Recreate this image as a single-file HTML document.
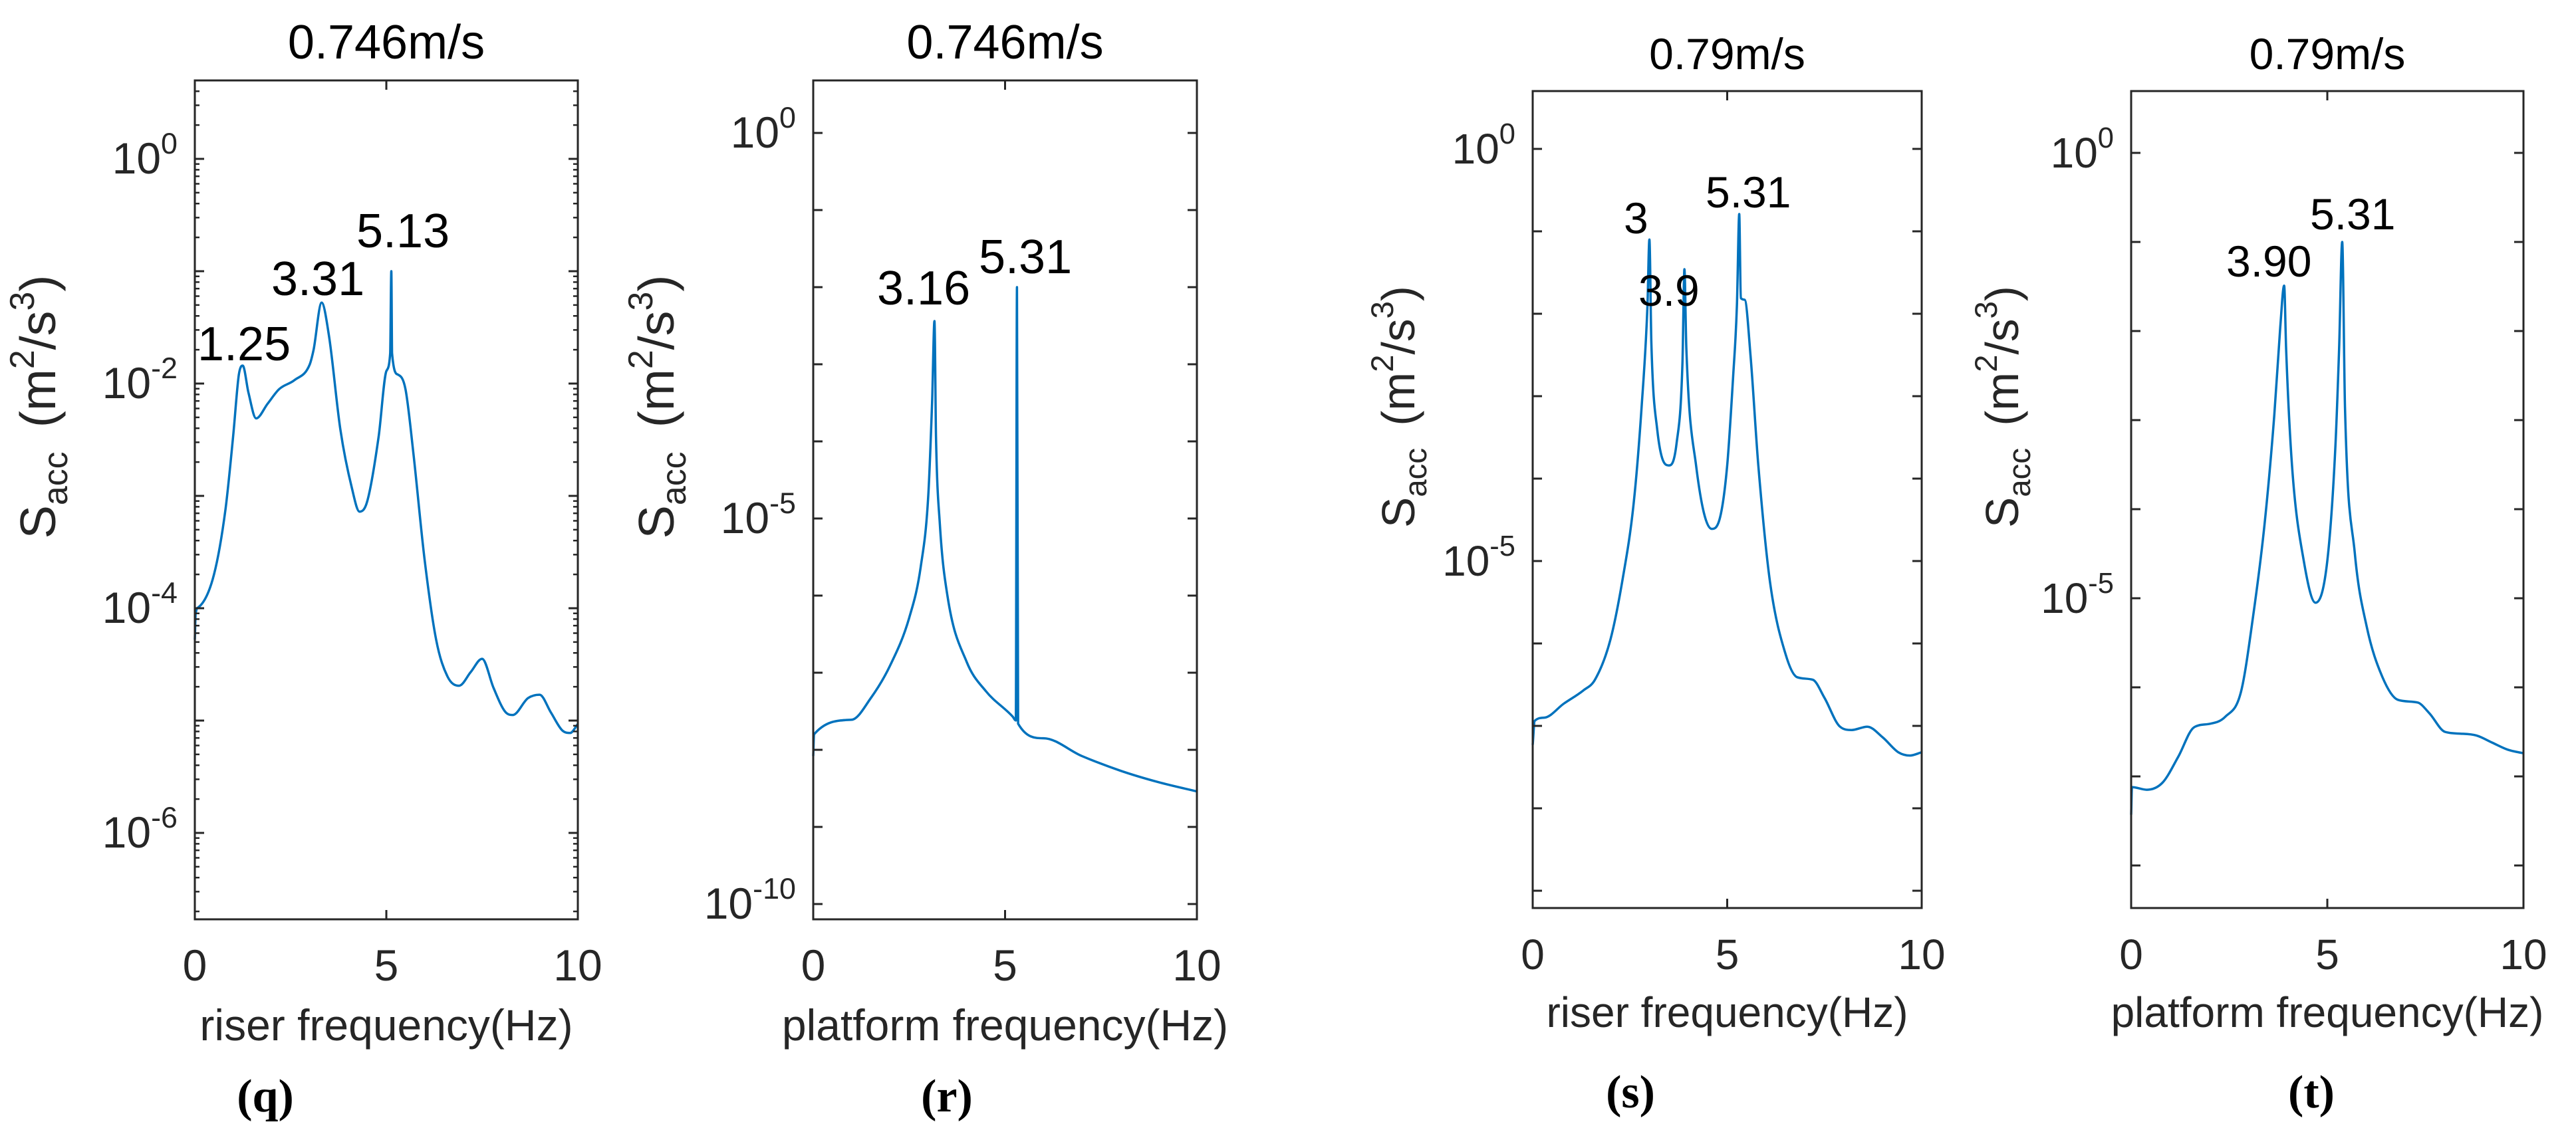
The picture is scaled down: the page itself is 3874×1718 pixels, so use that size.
<!DOCTYPE html>
<html><head><meta charset="utf-8"><style>
html,body{margin:0;padding:0;background:#fff;}
svg{display:block;}
text{font-family:"Liberation Sans",Arial,sans-serif;fill:#000;}
.tk{fill:#262626;}
.lbl{font-family:"Liberation Serif",serif;font-weight:bold;}
</style></head><body>
<svg id="fig" width="3874" height="1718" viewBox="0 0 3874 1718" xmlns="http://www.w3.org/2000/svg"></svg>
<script>
// Panel q: riser 0.746 m/s (log10 of S_acc)
const qFreq=[0,0.02,0.1,0.5,0.8,1.0,1.15,1.25,1.4,1.6,1.9,2.2,2.6,3.0,3.1,3.31,3.5,3.8,4.1,4.3,4.5,4.8,5.0,5.1,5.13,5.15,5.3,5.5,5.7,6.0,6.3,6.6,6.9,7.2,7.5,7.8,8.1,8.3,8.7,9.0,9.3,9.6,9.8,10];
const qLog=[-4.28,-4.05,-3.99,-3.70,-3.12,-2.47,-1.92,-1.84,-2.08,-2.31,-2.18,-2.05,-1.97,-1.83,-1.70,-1.28,-1.57,-2.41,-2.93,-3.14,-3.05,-2.47,-1.89,-1.73,-1.00,-1.73,-1.92,-2.05,-2.60,-3.57,-4.28,-4.61,-4.69,-4.57,-4.45,-4.71,-4.92,-4.95,-4.80,-4.77,-4.93,-5.09,-5.11,-5.03];
// Panel r: platform 0.746 m/s
const rFreq=[0,0.02,1,1.5,2,2.5,2.8,3.0,3.1,3.16,3.2,3.3,3.5,4,4.5,5.2,5.28,5.31,5.34,6,7,8,9,10];
const rLog=[-8.08,-7.80,-7.61,-7.33,-6.91,-6.29,-5.63,-4.69,-3.46,-2.44,-3.93,-5.07,-6.01,-6.86,-7.24,-7.57,-7.62,-2.0,-7.66,-7.85,-8.08,-8.27,-8.42,-8.54];
// Panel s: riser 0.79 m/s
const sFreq=[0,0.05,0.3,0.8,1.3,1.6,2.0,2.3,2.6,2.8,2.95,3.0,3.05,3.2,3.5,3.7,3.85,3.9,3.95,4.2,4.6,4.8,5.0,5.15,5.25,5.31,5.35,5.45,5.6,5.8,6.1,6.5,6.8,7.2,7.5,7.9,8.2,8.6,9.0,9.4,9.7,10];
const sLog=[-7.23,-6.94,-6.90,-6.73,-6.57,-6.44,-5.95,-5.25,-4.28,-3.13,-1.90,-1.10,-2.34,-3.40,-3.84,-3.57,-2.60,-1.46,-2.43,-3.84,-4.61,-4.50,-3.84,-2.78,-1.90,-0.79,-1.81,-1.83,-2.51,-3.84,-5.25,-6.13,-6.41,-6.44,-6.66,-7.01,-7.05,-7.01,-7.14,-7.32,-7.36,-7.32];
// Panel t: platform 0.79 m/s
const tFreq=[0,0.02,0.4,0.8,1.2,1.6,2.0,2.4,2.8,3.1,3.4,3.65,3.8,3.9,3.95,4.1,4.4,4.7,5.0,5.2,5.3,5.38,5.45,5.7,6.0,6.4,6.8,7.3,7.6,8.0,8.4,8.8,9.2,9.6,10];
const tLog=[-7.43,-7.12,-7.15,-7.07,-6.78,-6.45,-6.41,-6.33,-6.05,-5.23,-4.17,-2.94,-1.96,-1.49,-2.21,-3.51,-4.58,-5.05,-4.58,-3.35,-2.21,-1.00,-2.86,-4.49,-5.31,-5.88,-6.14,-6.17,-6.29,-6.50,-6.52,-6.54,-6.62,-6.70,-6.74];
const xTicks=[0,5,10];
const qYTickLabels=[0,-2,-4,-6];
const rYTickLabels=[0,-5,-10];
const sYTickLabels=[0,-5];
const tYTickLabels=[0,-5];
const qPeaks=["1.25","3.31","5.13"];
const rPeaks=["3.16","5.31"];
const sPeaks=["3","3.9","5.31"];
const tPeaks=["3.90","5.31"];

const NS="http://www.w3.org/2000/svg";
const svg=document.getElementById('fig');
function el(tag,attrs,parent){const e=document.createElementNS(NS,tag);for(const k in attrs)e.setAttribute(k,attrs[k]);(parent||svg).appendChild(e);return e;}

// monotone cubic (Fritsch-Carlson) path through pixel points
function smoothPath(xs,ys){
 const n=xs.length;const dx=[],m=[],t=new Array(n);
 for(let i=0;i<n-1;i++){dx[i]=xs[i+1]-xs[i];m[i]=(ys[i+1]-ys[i])/(dx[i]||1e-6);}
 t[0]=m[0];t[n-1]=m[n-2];
 for(let i=1;i<n-1;i++){t[i]=(m[i-1]*m[i]<=0)?0:(m[i-1]+m[i])/2;}
 for(let i=0;i<n-1;i++){if(m[i]===0){t[i]=0;t[i+1]=0;continue;}
  const a=t[i]/m[i],b=t[i+1]/m[i],h=a*a+b*b;if(h>9){const s=3/Math.sqrt(h);t[i]=s*a*m[i];t[i+1]=s*b*m[i];}}
 let d='M'+xs[0].toFixed(1)+' '+ys[0].toFixed(1);
 for(let i=0;i<n-1;i++){const h=dx[i]/3;
  d+='C'+(xs[i]+h).toFixed(1)+' '+(ys[i]+t[i]*h).toFixed(1)+' '+(xs[i+1]-h).toFixed(1)+' '+(ys[i+1]-t[i+1]*h).toFixed(1)+' '+xs[i+1].toFixed(1)+' '+ys[i+1].toFixed(1);}
 return d;
}

const panels=[
 {id:'q',L:293,R:869,T:121,B:1383,y0:239,pxDec:169,lo:-6.76,hi:0.70,freq:qFreq,vals:qLog,yl:qYTickLabels,minor:true,
  title:'0.746m/s',titleY:88,fs:66,tfs:72,xlab:'riser frequency(Hz)',xtY:1475,xlY:1565,ylabX:83,ylabY:612,tag:'(q)',tagX:399,tagY:1672,
  peaks:qPeaks,pk:[[297,542],[408,444],[536,372]]},
 {id:'r',L:1223,R:1800,T:121,B:1383,y0:200,pxDec:116,lo:-10.19,hi:0.68,freq:rFreq,vals:rLog,yl:rYTickLabels,minor:false,
  title:'0.746m/s',titleY:88,fs:66,tfs:72,xlab:'platform frequency(Hz)',xtY:1475,xlY:1565,ylabX:1013,ylabY:612,tag:'(r)',tagX:1424,tagY:1672,
  peaks:rPeaks,pk:[[1319,458],[1472,411]]},
 {id:'s',L:2305,R:2890,T:137,B:1366,y0:224,pxDec:124,lo:-9.19,hi:0.71,freq:sFreq,vals:sLog,yl:sYTickLabels,minor:false,
  title:'0.79m/s',titleY:104,fs:64,tfs:66,xlab:'riser frequency(Hz)',xtY:1458,xlY:1545,ylabX:2127,ylabY:612,tag:'(s)',tagX:2452,tagY:1666,
  peaks:sPeaks,pk:[[2442,351],[2464,460],[2565,312]]},
 {id:'t',L:3205,R:3795,T:137,B:1366,y0:230,pxDec:134,lo:-8.47,hi:0.69,freq:tFreq,vals:tLog,yl:tYTickLabels,minor:false,
  title:'0.79m/s',titleY:104,fs:64,tfs:66,xlab:'platform frequency(Hz)',xtY:1458,xlY:1545,ylabX:3035,ylabY:612,tag:'(t)',tagX:3476,tagY:1666,
  peaks:tPeaks,pk:[[3348,416],[3474,345]]}
];

panels.forEach(p=>{
 const g=el('g',{});
 
 
 const xS=f=>p.L+(f-0)/(10-0)*(p.R-p.L);
 const yS=v=>p.y0-(v-0)*p.pxDec;
 const d=smoothPath(p.freq.map(xS),p.vals.map(yS));
 const line=el('path',{d:d,fill:'none',stroke:'#0072BD','stroke-width':3.5,'stroke-linejoin':'round'},g);
 
 
 const box=el('rect',{x:p.L,y:p.T,width:p.R-p.L,height:p.B-p.T,fill:'none',stroke:'#262626','stroke-width':3},g);
 
 
 for(let e=Math.ceil(p.lo);e<=Math.floor(p.hi);e++){
  const y=yS(e);
  el('line',{x1:p.L,y1:y,x2:p.L+14,y2:y,stroke:'#262626','stroke-width':3},g);
  el('line',{x1:p.R,y1:y,x2:p.R-14,y2:y,stroke:'#262626','stroke-width':3},g);
  if(p.minor){
   for(let m=2;m<=9;m++){const ym=yS(e-1+Math.log10(m));if(ym>p.T&&ym<p.B){
    el('line',{x1:p.L,y1:ym,x2:p.L+7,y2:ym,stroke:'#262626','stroke-width':2.5},g);
    el('line',{x1:p.R,y1:ym,x2:p.R-7,y2:ym,stroke:'#262626','stroke-width':2.5},g);}}
  }
 }
 if(p.minor){for(let m=2;m<=9;m++){const ym=yS(Math.floor(p.hi)+Math.log10(m));if(ym>p.T){
   el('line',{x1:p.L,y1:ym,x2:p.L+7,y2:ym,stroke:'#262626','stroke-width':2.5},g);
   el('line',{x1:p.R,y1:ym,x2:p.R-7,y2:ym,stroke:'#262626','stroke-width':2.5},g);}}}
 p.yl.forEach(e=>{
  const t=el('text',{x:p.L-26,y:yS(e)+22,'text-anchor':'end','font-size':p.fs,class:'tk'},g);
  
  
  const a=el('tspan',{},t);a.textContent='10';
  const b=el('tspan',{dy:-30,'font-size':p.fs*0.68},t);b.textContent=String(e);
 });
 xTicks.forEach(f=>{
  const x=xS(f);
  el('line',{x1:x,y1:p.B,x2:x,y2:p.B-14,stroke:'#262626','stroke-width':3},g);
  el('line',{x1:x,y1:p.T,x2:x,y2:p.T+14,stroke:'#262626','stroke-width':3},g);
  const t=el('text',{x:x,y:p.xtY,'text-anchor':'middle','font-size':p.fs,class:'tk'},g);
  
  
  t.textContent=String(f);
 });
 const ti=el('text',{x:(p.L+p.R)/2,y:p.titleY,'text-anchor':'middle','font-size':p.tfs},g);
 
 
 ti.textContent=p.title;
 const xl=el('text',{x:(p.L+p.R)/2,y:p.xlY,'text-anchor':'middle','font-size':p.fs,class:'tk'},g);
 
 
 xl.textContent=p.xlab;
 const yl=el('text',{x:0,y:0,'text-anchor':'middle','font-size':p.tfs,class:'tk',transform:`translate(${p.ylabX},${p.ylabY}) rotate(-90)`},g);
 
 
 const parts=[['S',0,1.05],['acc',18,0.72],[' \u2009(m',-18,1.05],['2',-32,0.72],['/s',32,1.05],['3',-32,0.72],[')',32,1.05]];
 parts.forEach(([s,dy,sc])=>{const ts=el('tspan',{dy:dy,'font-size':p.tfs*sc},yl);ts.textContent=s;});
 p.peaks.forEach((s,i)=>{
  const t=el('text',{x:p.pk[i][0],y:p.pk[i][1],'font-size':p.tfs},g);
  
  
  t.textContent=s;
 });
 const tg=el('text',{x:p.tagX,y:p.tagY,'text-anchor':'middle','font-size':70,class:'lbl'},g);
 
 
 tg.textContent=p.tag;
});
</script>
</body></html>
